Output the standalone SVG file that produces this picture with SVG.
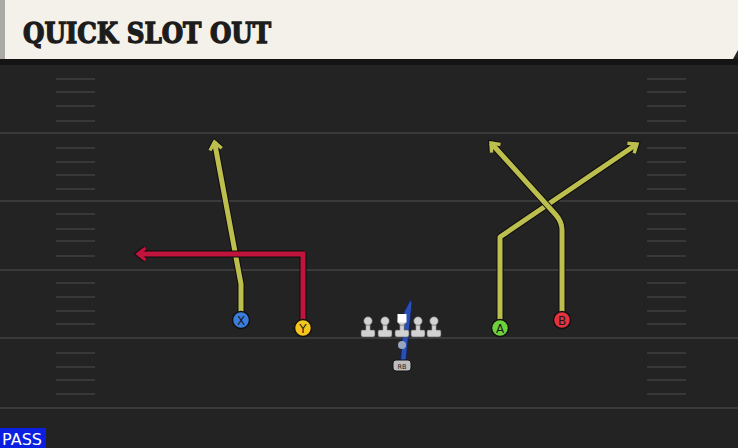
<svg xmlns="http://www.w3.org/2000/svg" width="738" height="448" viewBox="0 0 738 448">
<style>
.yl{stroke:#3a3a3a;stroke-width:2}
.hm{stroke:#383838;stroke-width:2}
.out{fill:none;stroke:#0d0d0d;stroke-width:7;stroke-linejoin:round}
.ry{fill:none;stroke:#bcbf4d;stroke-width:5;stroke-linejoin:round}
.rr{fill:none;stroke:#c0143c;stroke-width:5;stroke-linejoin:miter}
.pl{stroke:#111;stroke-width:1.5}
.lbl{font-family:"DejaVu Sans","Liberation Sans",sans-serif;font-size:12px;fill:#1a1a1a;text-anchor:middle}
.ol{fill:#d2d2d2;stroke:#555;stroke-width:0.6}
</style>
<defs>
<marker id="aOut" viewBox="0 0 16 16" refX="11" refY="8" markerWidth="16" markerHeight="16" markerUnits="userSpaceOnUse" orient="auto">
<path d="M3.5,2 L11,8 L3.5,14" fill="none" stroke="#0d0d0d" stroke-width="5.5" stroke-linejoin="miter"/>
</marker>
<marker id="aY" viewBox="0 0 16 16" refX="11" refY="8" markerWidth="16" markerHeight="16" markerUnits="userSpaceOnUse" orient="auto">
<path d="M3.5,2 L11,8 L3.5,14" fill="none" stroke="#bcbf4d" stroke-width="3.5" stroke-linejoin="miter"/>
</marker>
<marker id="aR" viewBox="0 0 16 16" refX="11" refY="8" markerWidth="16" markerHeight="16" markerUnits="userSpaceOnUse" orient="auto">
<path d="M3.5,2 L11,8 L3.5,14" fill="none" stroke="#c0143c" stroke-width="3.5" stroke-linejoin="miter"/>
</marker>
<g id="lineman">
<path d="M-2.2,-8 V-2 H-6 Q-7,-2 -7,0 V3 Q-7,5 -5,5 H5 Q7,5 7,3 V0 Q7,-2 6,-2 H2.2 V-8 Z"/>
<circle cx="0" cy="-11" r="4.3"/>
</g>
</defs>
<rect x="0" y="0" width="738" height="448" fill="#232323"/>
<g id="field">
<line class="yl" x1="0" y1="133" x2="738" y2="133"/>
<line class="yl" x1="0" y1="201" x2="738" y2="201"/>
<line class="yl" x1="0" y1="270" x2="738" y2="270"/>
<line class="yl" x1="0" y1="338" x2="738" y2="338"/>
<line class="yl" x1="0" y1="408" x2="738" y2="408"/>
<g>
<path class="hm" d="M56,79H95M56,92H95M56,106H95M56,121H95M56,148H95M56,162H95M56,175H95M56,189H95M56,214H95M56,229H95M56,241H95M56,256H95M56,283H95M56,297H95M56,311H95M56,324H95M56,353H95M56,367H95M56,380H95M56,394H95"/>
<path class="hm" d="M647,79H686M647,92H686M647,106H686M647,121H686M647,148H686M647,162H686M647,175H686M647,189H686M647,214H686M647,229H686M647,241H686M647,256H686M647,283H686M647,297H686M647,311H686M647,324H686M647,353H686M647,367H686M647,380H686M647,394H686"/>
</g>
</g>
<g id="header">
<rect x="0" y="59" width="738" height="6" fill="#141414"/>
<path d="M0,0H738V50L733,59H0Z" fill="#f4f1ea"/>
<rect x="0" y="0" width="5" height="59" fill="#a9a9a6"/>
<text x="23" y="43" font-family="'DejaVu Serif','Liberation Serif',serif" font-weight="bold" font-size="28" fill="#1c1c1c" stroke="#1c1c1c" stroke-width="1.4" textLength="248" lengthAdjust="spacingAndGlyphs">QUICK SLOT OUT</text>
</g>
<g id="connectors">
<path class="out" d="M241,312 L241,284 L214.5,142" marker-end="url(#aOut)"/>
<path class="ry" d="M241,312 L241,284 L214.5,142" marker-end="url(#aY)"/>
<path class="out" d="M303,320 L303,254 L138,254" marker-end="url(#aOut)"/>
<path class="rr" d="M303,320 L303,254 L138,254" marker-end="url(#aR)"/>
<path class="out" d="M500,320 L500,237 L637,144" marker-end="url(#aOut)"/>
<path class="ry" d="M500,320 L500,237 L637,144" marker-end="url(#aY)"/>
<path class="out" d="M562,312 L562,230 Q562,222 556,215 L491,143" marker-end="url(#aOut)"/>
<path class="ry" d="M562,312 L562,230 Q562,222 556,215 L491,143" marker-end="url(#aY)"/>
<path d="M404,312 L410.5,300 L412,303 L405,369 L400,369 Z" fill="#2a4fb5" stroke="#122060" stroke-width="0.8"/>
</g>
<g id="line">
<use href="#lineman" class="ol" x="368" y="332"/>
<use href="#lineman" class="ol" x="385" y="332"/>
<use href="#lineman" class="ol" x="402" y="332"/>
<use href="#lineman" class="ol" x="418" y="332"/>
<use href="#lineman" class="ol" x="434" y="332"/>
<rect x="397.5" y="314" width="9" height="8.5" fill="#ffffff"/>
</g>
<g id="qb"><circle cx="402" cy="345" r="4" fill="#9aa6c0"/></g>
<g id="rb">
<rect x="393" y="360" width="18" height="11" rx="3" fill="#bdbdbd" stroke="#111" stroke-width="1"/>
<text x="402" y="368.5" font-family="'DejaVu Sans','Liberation Sans',sans-serif" font-size="6.5" fill="#222" text-anchor="middle">RB</text>
</g>
<g id="X"><circle class="pl" cx="241" cy="320" r="8.5" fill="#3b7ddd"/><text class="lbl" x="241" y="324.5">X</text></g>
<g id="Y"><circle class="pl" cx="303" cy="328" r="8.5" fill="#f4c51c"/><text class="lbl" x="303" y="332.5">Y</text></g>
<g id="A"><circle class="pl" cx="500" cy="328" r="8.5" fill="#6dd13c"/><text class="lbl" x="500" y="332.5">A</text></g>
<g id="B"><circle class="pl" cx="562" cy="320" r="8.5" fill="#e5323f"/><text class="lbl" x="562" y="324.5">B</text></g>
<g id="pass">
<rect x="0" y="428" width="46" height="20" fill="#0a1fe0"/>
<text x="2" y="445" font-family="'DejaVu Sans','Liberation Sans',sans-serif" font-size="15" fill="#ffffff" textLength="40" lengthAdjust="spacingAndGlyphs">PASS</text>
</g>
</svg>
